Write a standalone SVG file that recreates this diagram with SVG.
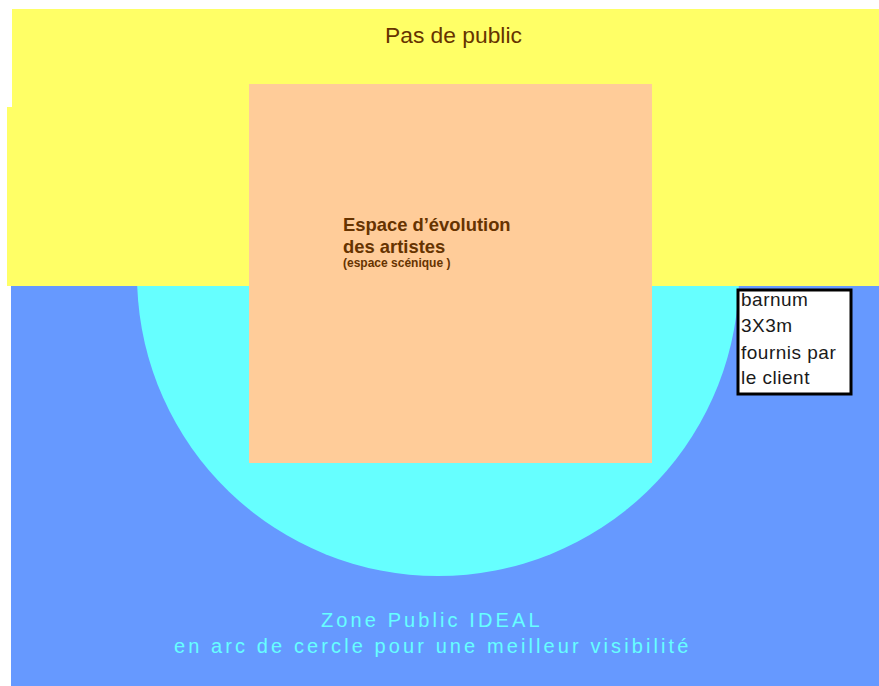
<svg xmlns="http://www.w3.org/2000/svg" width="879" height="686" viewBox="0 0 879 686">
  <style>
    .brown { fill: #663300; font-family: "Liberation Sans", Arial, sans-serif; }
    .zone { fill: #66FFFF; font-family: "Liberation Sans", Arial, sans-serif; font-size: 20px; letter-spacing: 3.1px; }
    .note { fill: #1a1a1a; font-family: "Liberation Sans", Arial, sans-serif; font-size: 19px; letter-spacing: 0.5px; }
  </style>
  <rect width="879" height="686" fill="#FFFFFF"/>
  <g id="zone-public">
    <rect x="11" y="286" width="868" height="400" fill="#6699FF"/>
    <path d="M137.2,286 A301,301 0 0 0 738.8,286 Z" fill="#66FFFF"/>
    <text class="zone" x="321" y="627">Zone Public IDEAL</text>
    <text class="zone" x="174" y="653">en arc de cercle pour une meilleur visibilité</text>
  </g>
  <g id="pas-de-public">
    <polygon points="12,9 879,9 879,286 7,286 7,107 12,107" fill="#FFFF66"/>
    <text class="brown" x="385" y="43" font-size="22.8">Pas de public</text>
  </g>
  <g id="espace-scenique">
    <rect x="249" y="84" width="403" height="379" fill="#FFCC99"/>
    <text class="brown" font-weight="bold" font-size="18.4" x="343" y="231">Espace d’évolution</text>
    <text class="brown" font-weight="bold" font-size="18.4" x="343" y="253">des artistes</text>
    <text class="brown" font-weight="bold" font-size="12" x="343" y="267">(espace scénique )</text>
  </g>
  <g id="barnum">
    <rect x="738" y="290" width="113" height="104" fill="#FFFFFF" stroke="#000000" stroke-width="3"/>
    <text class="note" x="741" y="306">barnum</text>
    <text class="note" x="741" y="332">3X3m</text>
    <text class="note" x="741" y="359">fournis par</text>
    <text class="note" x="741" y="384">le client</text>
  </g>
  <g id="connectors"/>
</svg>
